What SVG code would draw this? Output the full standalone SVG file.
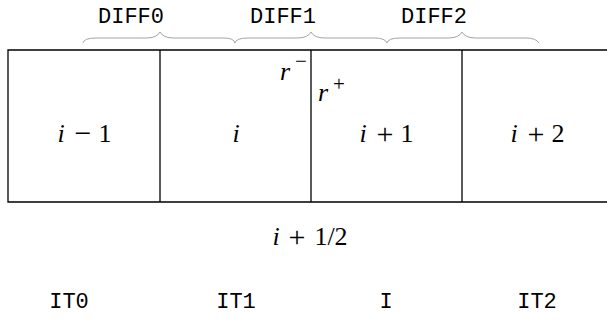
<svg xmlns="http://www.w3.org/2000/svg" width="607" height="328" viewBox="0 0 607 328">
<style>
.tt{font-family:"Liberation Mono","DejaVu Sans Mono",monospace;font-size:22px;fill:#000;text-anchor:middle}
.m{font-family:"Liberation Serif","DejaVu Serif",serif;font-size:26px;fill:#000;text-anchor:middle}
.mi{font-style:italic}
.op{font-size:30px}
.sup{font-family:"Liberation Serif","DejaVu Serif",serif;font-size:21px;fill:#000;text-anchor:middle}
.brace{fill:none;stroke:#9a9a9a;stroke-width:0.9}
.cell{fill:none;stroke:#000;stroke-width:1.3}
</style>
<rect width="607" height="328" fill="#fff"/>
<g id="braces">
<path class="brace" d="M83,43 Q84,38 96,38 L146,38 Q157,38 160,32 Q163,38 174,38 L224,38 Q234,38 235,43"/>
<path class="brace" d="M235,43 Q236,38 248,38 L297,38 Q308,38 311,32 Q314,38 325,38 L375,38 Q385,38 387,43"/>
<path class="brace" d="M387,43 Q388,38 400,38 L448,38 Q459,38 462,32 Q465,38 476,38 L526,38 Q536,38 539,43"/>
</g>
<g id="diff-labels">
<text class="tt" x="131" y="23">DIFF0</text>
<text class="tt" x="283" y="23">DIFF1</text>
<text class="tt" x="434" y="23">DIFF2</text>
</g>
<g id="cells">
<path class="cell" d="M607,50 H8 V202 H607"/>
<line class="cell" x1="160" y1="50" x2="160" y2="202"/>
<line class="cell" x1="311" y1="50" x2="311" y2="202"/>
<line class="cell" x1="462" y1="50" x2="462" y2="202"/>
</g>
<g id="cell-i-1"><text class="m"><tspan class="mi" x="61" y="142">i</tspan><tspan class="op" x="83" y="143">−</tspan><tspan x="105" y="142">1</tspan></text></g>
<g id="cell-i"><text class="m mi" x="236" y="142">i</text></g>
<g id="cell-i+1"><text class="m"><tspan class="mi" x="363" y="142">i</tspan><tspan class="op" x="385" y="144">+</tspan><tspan x="407" y="142">1</tspan></text></g>
<g id="cell-i+2"><text class="m"><tspan class="mi" x="514" y="142">i</tspan><tspan class="op" x="536" y="144">+</tspan><tspan x="558" y="142">2</tspan></text></g>
<g id="r-minus"><text class="m mi" x="285" y="80">r</text><text class="sup" x="301" y="68">−</text></g>
<g id="r-plus"><text class="m mi" x="323" y="101">r</text><text class="sup" x="339" y="91">+</text></g>
<g id="half"><text class="m"><tspan class="mi" x="276" y="245">i</tspan><tspan class="op" x="297" y="247">+</tspan><tspan x="331" y="245">1/2</tspan></text></g>
<g id="it-labels">
<text class="tt" x="69" y="308">IT0</text>
<text class="tt" x="236" y="308">IT1</text>
<text class="tt" x="386" y="308">I</text>
<text class="tt" x="537" y="308">IT2</text>
</g>
</svg>
